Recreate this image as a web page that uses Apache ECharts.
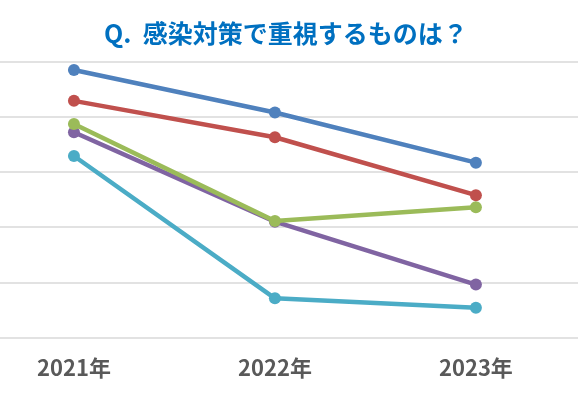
<!DOCTYPE html>
<html lang="ja">
<head>
    <meta charset="UTF-8">
    <title>感染対策で重視するもの</title>
    <script src="https://cdn.jsdelivr.net/npm/echarts@6.0.0/dist/echarts.min.js"></script>
    <style>
        html, body { margin: 0; padding: 0; background: #fff; }
        #main { width: 580px; height: 401px; }
    </style>
</head>
<body>
<div id="main"></div>
<script>
    var years = ['2021年', '2022年', '2023年'];
    var blue = [48.5, 40.8, 31.7];
    var red = [42.9, 36.3, 25.8];
    var green = [38.7, 21.1, 23.6];
    var purple = [37.2, 21.0, 9.6];
    var cyan = [32.9, 7.1, 5.4];

    var colors = ['#4F81BD', '#C0504D', '#9BBB59', '#8064A2', '#4BACC6'];
    var all = [blue, red, green, purple, cyan];

    function toPoints(arr) {
        var out = [];
        for (var i = 0; i < arr.length; i++) {
            out.push([i, arr[i]]);
        }
        return out;
    }

    var series = [];
    for (var k = 0; k < all.length; k++) {
        series.push({
            type: 'line',
            data: toPoints(all[k]),
            symbol: 'circle',
            symbolSize: 12,
            lineStyle: { color: colors[k], width: 4.5 },
            itemStyle: { color: colors[k] },
            z: 10 - k
        });
    }

    var myChart = echarts.init(document.getElementById('main'));
    var option = {
        animation: false,
        title: {
            text: 'Q.  感染対策で重視するものは？',
            left: 99,
            top: 16,
            textStyle: {
                color: '#0070C0',
                fontSize: 25,
                fontWeight: 'bold',
                fontFamily: 'Noto Sans CJK JP'
            }
        },
        grid: {
            left: 0,
            right: 2,
            top: 61.7,
            bottom: 63.5,
            containLabel: false
        },
        xAxis: {
            type: 'value',
            min: -0.368,
            max: 2.508,
            axisLine: { show: false },
            axisTick: { show: false },
            splitLine: { show: false },
            axisLabel: {
                customValues: [0, 1, 2],
                formatter: function (v) { return years[Math.round(v)]; },
                color: '#595959',
                fontSize: 22,
                fontWeight: 'bold',
                fontFamily: 'Noto Sans CJK JP',
                margin: 19
            }
        },
        yAxis: {
            type: 'value',
            min: 0,
            max: 50,
            interval: 10,
            axisLine: { show: false },
            axisTick: { show: false },
            axisLabel: { show: false },
            splitLine: { lineStyle: { color: '#D9D9D9', width: 1.5 } }
        },
        series: series
    };
    myChart.setOption(option);
</script>
</body>
</html>
